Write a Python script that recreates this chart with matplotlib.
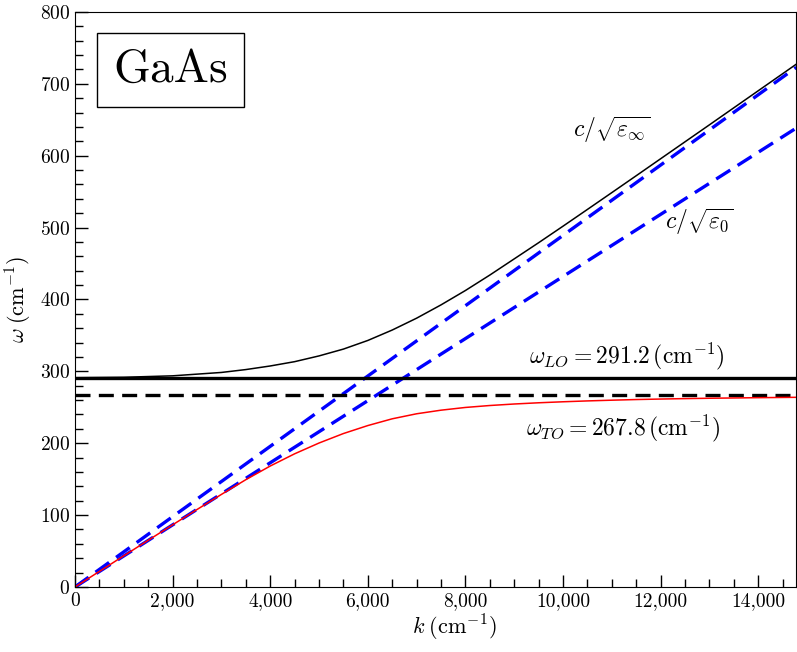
import numpy as np
import matplotlib.pyplot as plt
from matplotlib.ticker import MultipleLocator, FuncFormatter


plt.rcParams["font.family"] = "serif"
plt.rcParams["font.serif"] = ["cmr10"]
plt.rcParams["mathtext.fontset"] = "cm"
plt.rcParams["axes.unicode_minus"] = False
plt.rcParams["axes.formatter.use_mathtext"] = True


# Phonon frequencies (cm^-1)
w_LO = 291.2
w_TO = 267.8

# Light lines c/sqrt(eps)
k_light = [0, 14780]
w_light_inf = [0, 723.0]
w_light_0 = [0, 638.5]

# Upper polariton branch
k_upper = [0, 1000, 2000, 3000, 3500, 4000, 4500, 5000, 5500, 6000,
           6500, 7000, 7500, 8000, 8500, 9000, 9500, 10000, 10500,
           11000, 11500, 12000, 12500, 13000, 13500, 14000, 14500, 14780]
w_upper = [291.2, 291.8, 293.8, 298.5, 302.5, 307.5, 313.5, 321.5, 331.0,
           343.0, 357.5, 374.0, 392.5, 412.5, 434.0, 456.5, 479.0, 502.0,
           525.3, 548.7, 572.2, 595.8, 619.4, 643.0, 666.7, 690.4, 714.1,
           727.4]

# Lower polariton branch
k_lower = [0, 500, 1000, 1500, 2000, 2500, 3000, 3500, 4000, 4500, 5000,
           5500, 6000, 6500, 7000, 7500, 8000, 8500, 9000, 9500, 10000,
           10500, 11000, 11500, 12000, 12500, 13000, 13500, 14000, 14780]
w_lower = [0.0, 21.7, 43.4, 65.0, 86.5, 107.8, 128.8, 149.3, 168.3, 185.3,
           200.3, 213.5, 224.6, 234.0, 241.0, 246.0, 249.8, 252.5, 254.6,
           256.3, 257.7, 258.9, 259.9, 260.8, 261.5, 262.1, 262.6, 263.0,
           263.4, 263.9]


fig = plt.figure(figsize=(7.97, 6.52), dpi=100)
ax = fig.add_axes([0.0941, 0.0997, 0.905, 0.8819])

ax.plot(k_light, w_light_inf, color="blue", lw=2.4, dashes=(5, 2.6))
ax.plot(k_light, w_light_0, color="blue", lw=2.4, dashes=(5, 2.6))

ax.axhline(w_LO, color="black", lw=2.4)
ax.axhline(w_TO, color="black", lw=2.4, dashes=(4.5, 2.5))

ax.plot(k_upper, w_upper, color="black", lw=1.1)
ax.plot(k_lower, w_lower, color="red", lw=1.1)

ax.set_xlim(0, 14780)
ax.set_ylim(0, 800)

ax.xaxis.set_major_locator(MultipleLocator(2000))
ax.xaxis.set_minor_locator(MultipleLocator(500))
ax.yaxis.set_major_locator(MultipleLocator(100))
ax.yaxis.set_minor_locator(MultipleLocator(20))
ax.xaxis.set_major_formatter(FuncFormatter(lambda v, p: f"{v:,.0f}"))

ax.tick_params(which="both", direction="in", labelsize=14,
               top=False, right=False, width=1)
ax.tick_params(which="major", length=9)
ax.tick_params(which="minor", length=5.5)

ax.set_xlabel(r"$k\;(\mathrm{cm}^{-1})$", fontsize=16, labelpad=2, x=0.526)
ax.set_ylabel(r"$\omega\;(\mathrm{cm}^{-1})$", fontsize=16, labelpad=4)

ax.text(0.133, 0.899, "GaAs", transform=ax.transAxes, fontsize=34,
        ha="center", va="center",
        bbox=dict(boxstyle="square,pad=0.34", fc="white", ec="black", lw=1))

ax.text(10990, 636, r"$c/\sqrt{\varepsilon_\infty}$", fontsize=17,
        ha="center", va="center")
ax.text(12790, 508, r"$c/\sqrt{\varepsilon_0}$", fontsize=17,
        ha="center", va="center")
ax.text(11318, 321, r"$\omega_{LO} = 291.2\,(\mathrm{cm}^{-1})$",
        fontsize=17, ha="center", va="center")
ax.text(11236, 221, r"$\omega_{TO} = 267.8\,(\mathrm{cm}^{-1})$",
        fontsize=17, ha="center", va="center")

plt.savefig("out.png", dpi=100)
